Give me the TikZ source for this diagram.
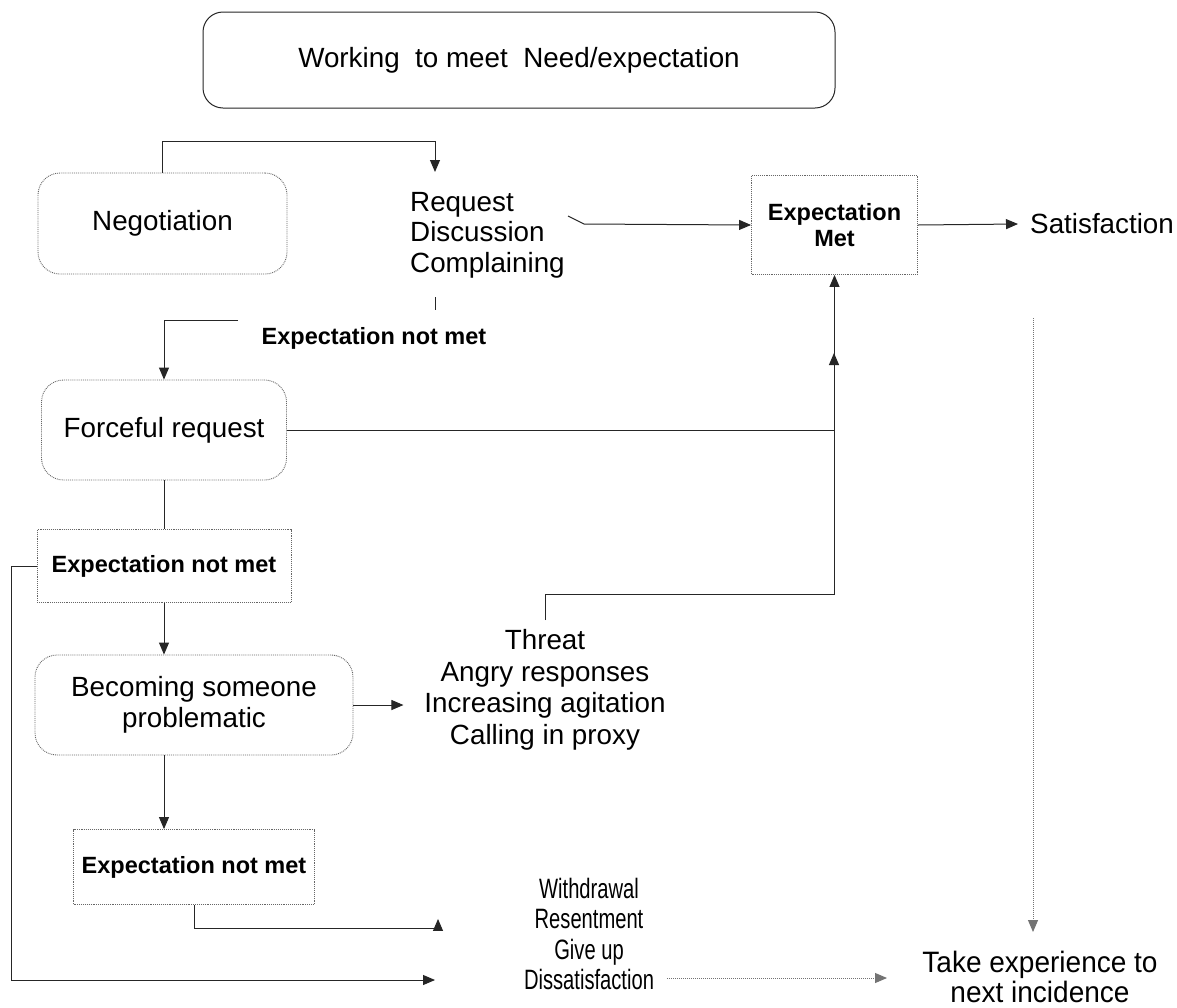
\documentclass[tikz,border=0pt]{standalone}
\usepackage{fontspec}
\setmainfont{Liberation Sans}
\newfontfamily\narrowsans{Liberation Sans}[FakeStretch=0.72]
\newfontfamily\semisans{Liberation Sans}[FakeStretch=0.95]
\usetikzlibrary{arrows.meta}

\begin{document}
\begin{tikzpicture}[x=1pt,y=-1pt,
  every node/.style={font=\fontsize{27.8}{31}\selectfont, inner sep=0pt},
  topbox/.style={draw=black!85, line width=1pt, rounded corners=20pt,
    minimum width=632pt, minimum height=96pt},
  softbox/.style={draw=black!60, line width=0.9pt, densely dotted,
    rounded corners=22pt, align=center},
  plainbox/.style={draw=black!60, line width=0.9pt, densely dotted, align=center,
    font=\bfseries\fontsize{23.5}{26.5}\selectfont},
  conn/.style={draw=black!85, line width=1pt},
  arr/.style={conn, -{Triangle[length=12pt,width=10pt]}},
  lst/.style={align=center, font=\fontsize{27.8}{31.5}\selectfont},
  nlst/.style={align=center, font=\narrowsans\fontsize{28}{30.6}\selectfont},
  tlst/.style={align=center, font=\semisans\fontsize{29.5}{30.2}\selectfont},
  boldlbl/.style={font=\bfseries\fontsize{23.5}{26.5}\selectfont}
]
\fill[white] (0,0) rectangle (1177,1007);
\useasboundingbox (0,0) rectangle (1177,1007);

% boxes and text blocks
\node[topbox] (top) at (519,60) {Working\ \ to meet\ \ Need/expectation};
\node[softbox, minimum width=249pt, minimum height=101pt] (neg) at (162.5,223.5) {Negotiation};
\node[align=left, anchor=west, font=\fontsize{27.8}{30.5}\selectfont] (req) at (410,235)
  {Request\\Discussion\\Complaining};
\node[plainbox, minimum width=166pt, minimum height=99pt] (met) at (834.5,225) {Expectation\\Met};
\node[anchor=west] (sat) at (1030,224) {Satisfaction};
\node[boldlbl] (enm0) at (374,338) {Expectation not met};
\node[softbox, minimum width=245pt, minimum height=100pt] (force) at (164,430) {Forceful request};
\node[plainbox, minimum width=254pt, minimum height=73pt] (enm1) at (164,566) {Expectation not met};
\node[softbox, minimum width=318pt, minimum height=100pt] (bec) at (194,705) {Becoming someone\\problematic};
\node[lst] (thr) at (545,690) {Threat\\Angry responses\\Increasing agitation\\Calling in proxy};
\node[plainbox, minimum width=241pt, minimum height=75pt] (enm2) at (194,867) {Expectation not met};
\node[nlst] (wd) at (589,934) {Withdrawal\\Resentment\\Give up\\Dissatisfaction};
\node[tlst] (take) at (1040,977) {Take experience to\\next incidence};

% free ends of connectors
\coordinate (reqin) at (435,172);
\coordinate (reqout) at (568,216);
\coordinate (tickA) at (435,297);
\coordinate (tickB) at (435,310);
\coordinate (enmout) at (238,320);
\coordinate (join) at (834,353);
\coordinate (throut) at (545,620);
\coordinate (wdin) at (435,980);
\coordinate (vtop) at (1033,318);
\coordinate (vbot) at (1033,932);
\coordinate (dotA) at (667,978);
\coordinate (dotB) at (887,978);

% connectors
\draw[arr] (neg.north) -- ++(0,-31) -| (reqin);
\draw[arr] (reqout) -- ++(16,8) -- (met.west);
\draw[arr] (met.east) -- ([xshift=-12pt]sat.west);
\draw[conn] (tickA) -- (tickB);
\draw[arr] (enmout) -| (force.north);
\draw[arr] (force.east) -| (join);
\draw[arr] (throut) -- ++(0,-26) -| (met.south);
\draw[conn] (force.south) -- (enm1.north);
\draw[arr] (enm1.west) -- ++(-25,0) |- (wdin);
\draw[arr] (enm1.south) -- (enm1.south |- bec.north);
\draw[arr] (bec.east) -- ++(50,0);
\draw[arr] (enm1.south |- bec.south) -- (enm1.south |- enm2.north);
\draw[arr] (enm2.south) -- ++(0,24) -- ++(244,0) -- ++(0,-10);
\draw[arr, draw=black!55, densely dotted] (dotA) -- (dotB);
\draw[arr, draw=black!55, densely dotted] (vtop) -- (vbot);
\end{tikzpicture}
\end{document}
